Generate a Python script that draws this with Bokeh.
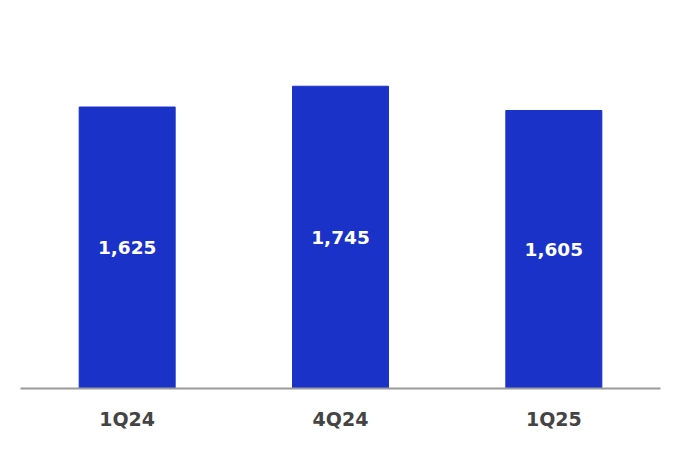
from bokeh.plotting import figure
from bokeh.models import ColumnDataSource
from bokeh.core.properties import value
from bokeh.embed import file_html
from bokeh.resources import INLINE

categories = ["1Q24", "4Q24", "1Q25"]
values = [1625, 1745, 1605]
labels = ["1,625", "1,745", "1,605"]

src = ColumnDataSource(dict(cat=categories, val=values, half=[v / 2 for v in values], lab=labels))

p = figure(x_range=categories, y_range=(0, 2240), width=664, height=436,
           output_backend="svg", toolbar_location=None,
           min_border_left=20, min_border_right=4, min_border_top=0, min_border_bottom=48)
p.outline_line_color = None
p.background_fill_color = "white"
p.border_fill_color = "white"
p.grid.visible = False
p.yaxis.visible = False

p.vbar(x="cat", top="val", width=0.45, source=src, color="#1a32c8")
p.text(x="cat", y="half", text="lab", source=src, text_color="white",
       text_font=value("DejaVu Sans"), text_font_style="bold", text_font_size="18.5px",
       text_align="center", text_baseline="middle")

ax = p.xaxis[0]
ax.axis_line_color = "#9a9a9a"
ax.axis_line_width = 2
ax.major_tick_line_color = None
ax.minor_tick_line_color = None
ax.major_label_text_font = "DejaVu Sans"
ax.major_label_text_font_style = "bold"
ax.major_label_text_font_size = "19px"
ax.major_label_text_color = "#444444"
ax.major_label_standoff = 13

open("out.html", "w").write(file_html(p, INLINE))
